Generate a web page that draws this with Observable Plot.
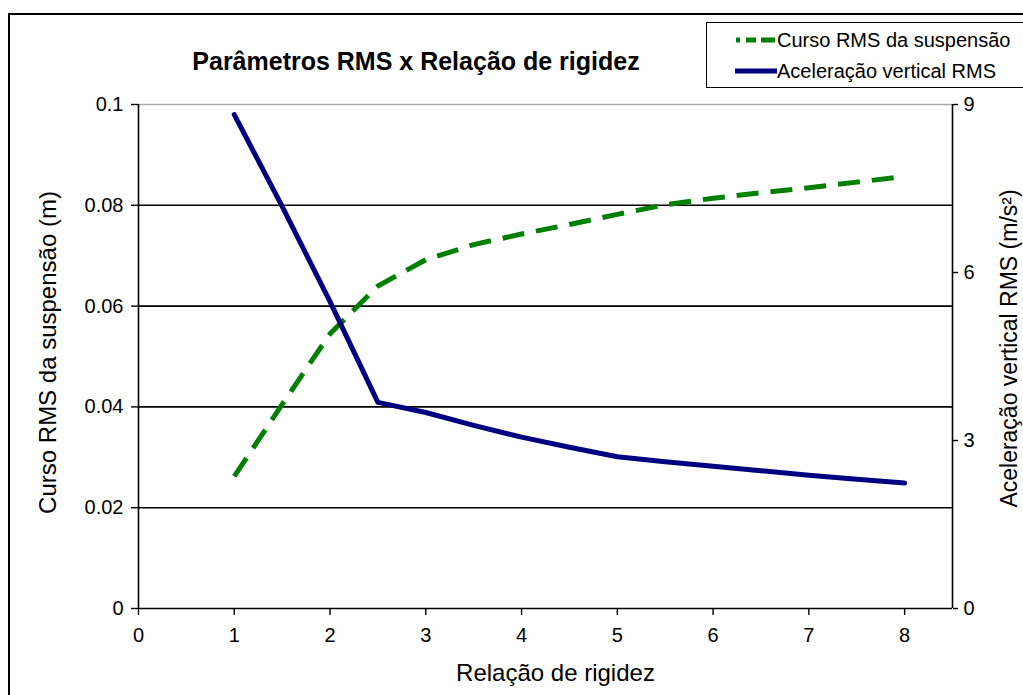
<!DOCTYPE html>
<html>
<head>
<meta charset="utf-8">
<script src="https://cdn.jsdelivr.net/npm/d3@7"></script>
<script src="https://cdn.jsdelivr.net/npm/@observablehq/plot@0.6"></script>
<style>
  html, body { margin: 0; padding: 0; background: #fff; }
  #wrap { position: relative; width: 1023px; height: 695px; overflow: hidden; background: #fff;
          font-family: "Liberation Sans", Arial, sans-serif; color: #000; }
  #frame { position: absolute; left: 8px; top: 13px; width: 1100px; height: 800px;
           border-left: 2px solid #000; border-top: 2px solid #000; }
  #chart { position: absolute; left: 0; top: 0; }
  #title { position: absolute; left: 0; width: 832px; top: 46px; text-align: center;
           font-weight: bold; font-size: 25px; line-height: 30px; }
  #legend { position: absolute; left: 706px; top: 22px; width: 340px; height: 64px;
            border: 1.5px solid #000; background: #fff; }
  .lg { position: absolute; left: 70px; font-size: 20px; line-height: 24px; white-space: nowrap; }
  #lgsvg { position: absolute; left: 0; top: 0; }
</style>
</head>
<body>
<div id="wrap">
  <div id="frame"></div>
  <div id="chart"></div>
  <div id="title"></div>
  <div id="legend">
    <svg id="lgsvg" width="80" height="64"></svg>
    <div class="lg" id="lg1" style="top:5px"></div>
    <div class="lg" id="lg2" style="top:36px"></div>
  </div>
</div>
<script>
// ---- data ----
const relacao = [1, 1.5, 2, 2.5, 3, 3.5, 4, 4.5, 5, 5.5, 6, 6.5, 7, 7.5, 8];
const cursoRMS = [0.0262, 0.0405, 0.0545, 0.0640, 0.0692, 0.0722, 0.0743, 0.0762, 0.0782, 0.0801, 0.0814, 0.0825, 0.0835, 0.0846, 0.0857];
const aceleracaoRMS = [8.82, 7.18, 5.48, 3.68, 3.50, 3.27, 3.06, 2.88, 2.71, 2.62, 2.54, 2.46, 2.38, 2.31, 2.24];
const xTicks = [0, 1, 2, 3, 4, 5, 6, 7, 8];
const leftTicks = [0, 0.02, 0.04, 0.06, 0.08, 0.1];
const leftTickLabels = ["0", "0.02", "0.04", "0.06", "0.08", "0.1"];
const rightTicks = [0, 3, 6, 9];
const seriesNames = ["Curso RMS da suspensão", "Aceleração vertical RMS"];
const titleText = "Parâmetros RMS x Relação de rigidez";
const xLabel = "Relação de rigidez";
const yLeftLabel = "Curso RMS da suspensão (m)";
const yRightLabel = "Aceleração vertical RMS (m/s²)";
const xMax = 8.5, leftMax = 0.1, rightMax = 9;

// ---- build ----
const k = leftMax / rightMax;
const green = "#008000", navy = "#000080";
const cursoData = relacao.map((x, i) => ({x, y: cursoRMS[i]}));
const acelData = relacao.map((x, i) => ({x, y: aceleracaoRMS[i]}));

const chart = Plot.plot({
  width: 1023, height: 695,
  marginLeft: 138, marginRight: 71, marginTop: 104, marginBottom: 87,
  x: {domain: [0, xMax]},
  y: {domain: [0, leftMax]},
  style: {fontFamily: "'Liberation Sans', Arial, sans-serif", fontSize: "20px", background: "transparent", color: "#000", overflow: "visible"},
  marks: [
    Plot.ruleY(leftTicks.filter(t => t > 0 && t < leftMax), {stroke: "#000", strokeWidth: 1.6}),
    Plot.ruleY([leftMax], {stroke: "#aaa", strokeWidth: 1.6}),
    Plot.ruleX([0, xMax], {stroke: "#000", strokeWidth: 1.6}),
    Plot.ruleY([0], {stroke: "#000", strokeWidth: 1.6}),
    Plot.axisX(xTicks, {tickSize: 7, tickPadding: 12, fontSize: 20, label: null, strokeWidth: 1.4}),
    Plot.axisY(leftTicks, {anchor: "left", tickSize: 7, tickPadding: 8, fontSize: 20, label: null, strokeWidth: 1.4,
      tickFormat: d => leftTickLabels[leftTicks.indexOf(d)]}),
    Plot.axisY(rightTicks.map(v => v * k), {anchor: "right", tickSize: 5, tickPadding: 6, fontSize: 20, label: null, strokeWidth: 1.4,
      tickFormat: d => String(Math.round(d / k))}),
    Plot.line(cursoData, {x: "x", y: "y", stroke: green, strokeWidth: 5, strokeDasharray: "22,12", strokeLinecap: "butt"}),
    Plot.line(acelData, {x: "x", y: d => d.y * k, stroke: navy, strokeWidth: 5}),
    Plot.text([xLabel], {frameAnchor: "bottom", textAnchor: "middle", dx: 10, dy: 72, fontSize: 24, text: d => d}),
    Plot.text([yLeftLabel], {frameAnchor: "left", textAnchor: "middle", rotate: -90, dx: -90, dy: -4, fontSize: 24, text: d => d}),
    Plot.text([yRightLabel], {frameAnchor: "right", textAnchor: "middle", rotate: -90, dx: 57, dy: -8, fontSize: 23, text: d => d})
  ]
});
document.getElementById("chart").appendChild(chart);

document.getElementById("title").textContent = titleText;
document.getElementById("lg1").textContent = seriesNames[0];
document.getElementById("lg2").textContent = seriesNames[1];

// legend samples
const lg = d3.select("#lgsvg");
lg.append("line").attr("x1", 29).attr("x2", 69).attr("y1", 17).attr("y2", 17)
  .attr("stroke", green).attr("stroke-width", 5).attr("stroke-dasharray", "4,6,10,5,14,40");
lg.append("line").attr("x1", 28).attr("x2", 70).attr("y1", 48).attr("y2", 48)
  .attr("stroke", navy).attr("stroke-width", 5);
</script>
</body>
</html>
